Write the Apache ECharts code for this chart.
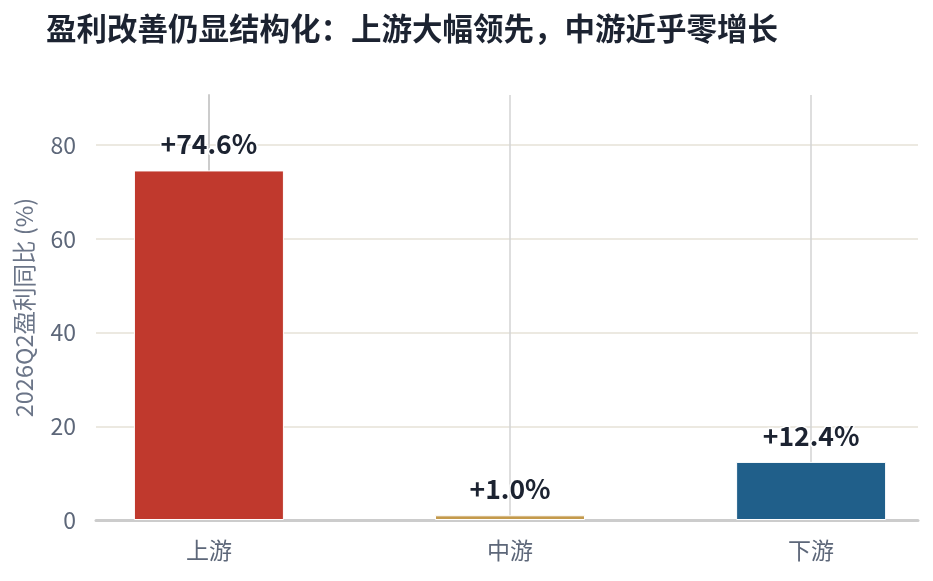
<!DOCTYPE html>
<html>
<head>
<meta charset="utf-8">
<script src="https://cdn.jsdelivr.net/npm/echarts@6/dist/echarts.min.js"></script>
<style>
html,body{margin:0;padding:0;background:#fff;}
#chart{width:933px;height:581px;}
</style>
</head>
<body>
<div id="chart"></div>
<script>
const titleText = '盈利改善仍显结构化：上游大幅领先，中游近乎零增长';
const categories = ['上游', '中游', '下游'];
const profitYoY = [74.6, 1.0, 12.4];
const barColors = ['#c0392d', '#c49a4c', '#205f8a'];
const yTicks = [0, 20, 40, 60, 80];
const yAxisName = '2026Q2盈利同比 (%)';

const FONT = '"Noto Sans CJK SC", "Noto Sans", sans-serif';
const chart = echarts.init(document.getElementById('chart'), null, {renderer: 'canvas'});

const catIdx = categories.map((c, i) => i);

chart.setOption({
  backgroundColor: '#ffffff',
  animation: false,
  title: {
    text: titleText,
    left: 41,
    top: 8,
    textStyle: {fontFamily: FONT, fontSize: 30.5, fontWeight: 'bold', color: '#1c2331'}
  },
  grid: {left: 96, right: 15, top: 95, bottom: 61, containLabel: false},
  xAxis: {
    type: 'value',
    min: -0.375,
    max: 2.355,
    axisLine: {show: true, onZero: false, lineStyle: {color: '#cccccc', width: 3}},
    axisTick: {show: false, customValues: catIdx},
    axisLabel: {
      customValues: catIdx,
      margin: 19,
      fontFamily: FONT, fontSize: 23, color: '#5d6779',
      formatter: v => categories[Math.round(v)] || ''
    },
    splitLine: {show: true, lineStyle: {color: '#d3d3d3', width: 1.5}}
  },
  yAxis: {
    type: 'value',
    min: 0,
    max: 90.7,
    name: yAxisName,
    nameLocation: 'middle',
    nameGap: 60,
    nameTextStyle: {fontFamily: FONT, fontSize: 23.5, color: '#6b7588'},
    axisLine: {show: true, lineStyle: {color: '#cccccc', width: 2}},
    axisTick: {show: false, customValues: yTicks},
    axisLabel: {customValues: yTicks, margin: 20, fontFamily: FONT, fontSize: 23, color: '#5d6779'},
    splitLine: {show: true, lineStyle: {color: '#e6e2d7', width: 1.5}}
  },
  series: [{
    type: 'bar',
    barWidth: 150,
    data: profitYoY.map((v, i) => ({value: [i, v], itemStyle: {color: barColors[i]}})),
    itemStyle: {borderColor: '#ffffff', borderWidth: 1},
    label: {
      show: true,
      position: 'top',
      distance: 13,
      fontFamily: FONT,
      fontSize: 26.5,
      fontWeight: 'bold',
      color: '#1c2331',
      textBorderColor: '#ffffff',
      textBorderWidth: 3,
      formatter: p => '+' + p.value[1].toFixed(1) + '%'
    }
  }]
});
</script>
</body>
</html>
